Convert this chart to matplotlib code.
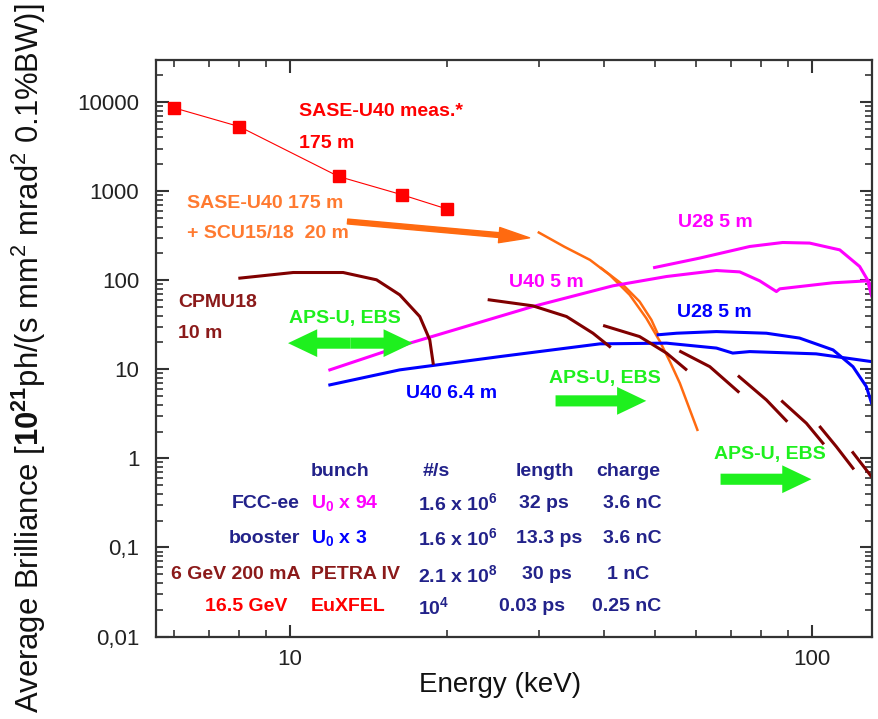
import matplotlib
matplotlib.use("Agg")
import matplotlib.pyplot as plt
from matplotlib.ticker import LogLocator, FixedLocator, FixedFormatter, NullFormatter

plt.rcParams['font.family'] = ['Liberation Sans', 'DejaVu Sans']
plt.rcParams['mathtext.fontset'] = 'custom'
plt.rcParams['mathtext.rm'] = 'Liberation Sans'
plt.rcParams['mathtext.it'] = 'Liberation Sans:italic'
plt.rcParams['mathtext.bf'] = 'Liberation Sans:bold'

# SASE-U40 measured (EuXFEL)
sase_x = [6.0, 8.0, 12.4, 16.4, 20.0]
sase_y = [8600, 5300, 1460, 910, 630]

# SASE-U40 + SCU15/18 (orange)
scu_a_x = [30.0, 33.6, 37.6, 41.0, 44.8, 48.2, 51.2, 53.5, 55.9, 60.4]
scu_a_y = [343, 237, 169, 115, 68.5, 37.5, 20.5, 12.2, 6.98, 2.09]
scu_b_x = [39.5, 43.5, 46.8, 49.3, 50.8]
scu_b_y = [136.7, 88.7, 57.6, 35.9, 24.4]

# FCC-ee U40 5 m / U28 5 m (magenta)
fcc_u40_x = [11.93, 16.98, 29.2, 41.6, 52.7, 65.7, 72.8, 79.5, 85.6, 86.9, 109.7, 128, 130.3]
fcc_u40_y = [9.85, 19.65, 50.6, 86.5, 110, 128.4, 124, 98.4, 74.6, 80, 93.5, 98.4, 66.8]
fcc_u28_x = [50.0, 61.0, 76.1, 88.0, 99.1, 113.2, 123.6, 130.2]
fcc_u28_y = [138.8, 177, 239, 265, 261, 219, 142.5, 85]

# booster U40 6.4 m / U28 5 m (blue)
boo_u40_x = [11.93, 16.24, 25.3, 39.3, 52.7, 65.7, 70.6, 76.1, 102, 130.2]
boo_u40_y = [6.68, 9.85, 13.9, 19.3, 19.65, 17.3, 15.2, 15.8, 14.9, 12.2]
boo_u28_x = [50.8, 55.1, 65.7, 81.9, 94.8, 109.9, 120, 127.3, 130.2]
boo_u28_y = [24.4, 25.4, 26.5, 25.4, 22.4, 16.5, 10.7, 6.39, 4.2]

# PETRA IV CPMU18 10 m harmonics (dark red)
cpmu_x = [
    [8.02, 10.15, 12.65, 14.66, 16.24, 17.74, 18.54, 18.82],
    [24.1, 29.2, 33.9, 38.1, 41.0],
    [40.1, 46.8, 52.7, 57.4],
    [56.1, 63.8, 72.3],
    [72.6, 81.9, 89.4],
    [87.9, 97.7, 105.1],
    [103.9, 111.5, 120],
    [120, 130.2],
]
cpmu_y = [
    [105.5, 122, 122, 101, 68.5, 39.1, 21.4, 11.7],
    [60.2, 51.6, 39.1, 25.4, 18.0],
    [30.7, 23.3, 15.2, 10.0],
    [15.8, 10.7, 5.62],
    [8.28, 4.53, 2.65],
    [4.34, 2.48, 1.48],
    [2.24, 1.355, 0.775],
    [1.16, 0.624],
]

# green "APS-U, EBS" arrows: (x start, x end, y), label position
aps_arrows = [(9.92, 17.2, 19.65), (32.3, 48.2, 4.42), (66.9, 99.9, 0.583)]
aps_labels = [(12.75, 37.5), (40.1, 7.94), (83.1, 1.093)]

y_ticks = [0.01, 0.1, 1, 10, 100, 1000, 10000]
y_tick_labels = ['0,01', '0,1', '1', '10', '100', '1000', '10000']

RED = '#FF0000'
ORANGE = '#FF6A10'
MAGENTA = '#FF00FF'
BLUE = '#0000FF'
MAROON = '#800000'
GREEN = '#1EF01E'
NAVY = '#22228A'
DARKRED = '#8B1A1A'

fig = plt.figure(figsize=(8.79, 7.19), dpi=100)
ax = fig.add_axes([0.1775, 0.1147, 0.8145, 0.8025])
ax.set_xscale('log')
ax.set_yscale('log')
ax.set_xlim(5.54, 130.5)
ax.set_ylim(0.01, 30000)

# curves
ax.plot(sase_x, sase_y, color=RED, lw=0.8, marker='s', ms=9, mec=RED, mfc=RED, zorder=5)
ax.plot(scu_a_x, scu_a_y, color=ORANGE, lw=1.8)
ax.plot(scu_b_x, scu_b_y, color=ORANGE, lw=1.8)
ax.plot(fcc_u40_x, fcc_u40_y, color=MAGENTA, lw=2.2)
ax.plot(fcc_u28_x, fcc_u28_y, color=MAGENTA, lw=2.2)
ax.plot(boo_u40_x, boo_u40_y, color=BLUE, lw=2.2)
ax.plot(boo_u28_x, boo_u28_y, color=BLUE, lw=2.2)
for cx, cy in zip(cpmu_x, cpmu_y):
    ax.plot(cx, cy, color=MAROON, lw=2.2)

# orange arrow
ax.annotate('', xy=(28.8, 299), xytext=(12.9, 456),
            arrowprops=dict(arrowstyle='simple,head_length=22,head_width=11,tail_width=3.5',
                            color=ORANGE, shrinkA=0, shrinkB=0, mutation_scale=1))

# green arrows
green_style = 'simple,head_length=21,head_width=20,tail_width=8'
for i, (x0, x1, y) in enumerate(aps_arrows):
    if i == 0:
        xm = (x0 * x1) ** 0.5
        for xe in (x0, x1):
            ax.annotate('', xy=(xe, y), xytext=(xm, y),
                        arrowprops=dict(arrowstyle=green_style, color=GREEN, lw=0,
                                        shrinkA=0, shrinkB=0, mutation_scale=1))
    else:
        ax.annotate('', xy=(x1, y), xytext=(x0, y),
                    arrowprops=dict(arrowstyle=green_style, color=GREEN, lw=0,
                                    shrinkA=0, shrinkB=0, mutation_scale=1))
for lx, ly in aps_labels:
    ax.text(lx, ly, 'APS-U, EBS', color=GREEN, fontsize=14, fontweight='bold',
            ha='center', va='center')

fs = 14
kw = dict(fontsize=fs, fontweight='bold', va='center')
ax.text(10.4, 7850, 'SASE-U40 meas.*', color=RED, **kw)
ax.text(10.4, 3465, '175 m', color=RED, **kw)
ax.text(6.36, 734, 'SASE-U40 175 m', color='#FF7A30', **kw)
ax.text(6.36, 338, '+ SCU15/18  20 m', color='#FF7A30', **kw)
ax.text(55.4, 445, 'U28 5 m', color=MAGENTA, **kw)
ax.text(26.3, 94.2, 'U40 5 m', color=MAGENTA, **kw)
ax.text(55.3, 43.4, 'U28 5 m', color=BLUE, **kw)
ax.text(16.7, 5.39, 'U40 6.4 m', color=BLUE, **kw)
ax.text(6.11, 56.1, 'CPMU18', color=DARKRED, **kw)
ax.text(6.11, 25.4, '10 m', color=DARKRED, **kw)

# table
ax.text(10.97, 0.71, 'bunch', color=NAVY, **kw)
ax.text(17.96, 0.71, '#/s', color=NAVY, **kw)
ax.text(27.1, 0.71, 'length', color=NAVY, **kw)
ax.text(38.6, 0.71, 'charge', color=NAVY, **kw)

ax.text(10.45, 0.313, 'FCC-ee', color=NAVY, ha='right', **kw)
ax.text(10.97, 0.313, r'U$_\mathbf{0}$ x 94', color=MAGENTA, **kw)
ax.text(17.6, 0.313, r'1.6 x 10$^\mathbf{6}$', color=NAVY, **kw)
ax.text(27.5, 0.313, '32 ps', color=NAVY, **kw)
ax.text(51.6, 0.313, '3.6 nC', color=NAVY, ha='right', **kw)

ax.text(10.45, 0.127, 'booster', color=NAVY, ha='right', **kw)
ax.text(10.97, 0.127, r'U$_\mathbf{0}$ x 3', color=BLUE, **kw)
ax.text(17.6, 0.127, r'1.6 x 10$^\mathbf{6}$', color=NAVY, **kw)
ax.text(27.1, 0.127, '13.3 ps', color=NAVY, **kw)
ax.text(51.6, 0.127, '3.6 nC', color=NAVY, ha='right', **kw)

ax.text(10.5, 0.0491, '6 GeV 200 mA', color=DARKRED, ha='right', **kw)
ax.text(10.97, 0.0491, 'PETRA IV', color=DARKRED, **kw)
ax.text(17.6, 0.0491, r'2.1 x 10$^\mathbf{8}$', color=NAVY, **kw)
ax.text(27.8, 0.0491, '30 ps', color=NAVY, **kw)
ax.text(48.9, 0.0491, '1 nC', color=NAVY, ha='right', **kw)

ax.text(9.88, 0.0216, '16.5 GeV', color=RED, ha='right', **kw)
ax.text(10.97, 0.0216, 'EuXFEL', color=RED, **kw)
ax.text(17.6, 0.0216, r'10$^\mathbf{4}$', color=NAVY, **kw)
ax.text(25.2, 0.0216, '0.03 ps', color=NAVY, **kw)
ax.text(51.6, 0.0216, '0.25 nC', color=NAVY, ha='right', **kw)

# axes styling
ax.yaxis.set_major_locator(FixedLocator(y_ticks))
ax.yaxis.set_major_formatter(FixedFormatter(y_tick_labels))
ax.yaxis.set_minor_locator(LogLocator(base=10, subs=range(2, 10), numticks=50))
ax.yaxis.set_minor_formatter(NullFormatter())
ax.xaxis.set_major_locator(FixedLocator([10, 100]))
ax.xaxis.set_major_formatter(FixedFormatter(['10', '100']))
ax.xaxis.set_minor_locator(LogLocator(base=10, subs=range(2, 10), numticks=50))
ax.xaxis.set_minor_formatter(NullFormatter())
ax.tick_params(which='both', direction='in', top=True, right=True, colors='#333333',
               labelcolor='#222222')
ax.tick_params(which='major', length=9, width=1.5, labelsize=16)
ax.tick_params(axis='y', which='major', pad=12)
ax.tick_params(axis='x', which='major', pad=9)
ax.tick_params(which='minor', length=5, width=1.2)
for s in ax.spines.values():
    s.set_linewidth(1.6)
    s.set_color('#333333')

ax.set_xlabel('Energy (keV)', fontsize=20, color='#111111')
ax.xaxis.set_label_coords(0.48, -0.062)
ax.set_ylabel(r'Average Brilliance [$\mathbf{10}^{\mathbf{21}}$ph/(s mm$^2$ mrad$^2$ 0.1%BW)]',
              fontsize=22.3, color='#111111')
ax.yaxis.set_label_coords(-0.151, 0.483)

fig.savefig('out.png', dpi=100)
